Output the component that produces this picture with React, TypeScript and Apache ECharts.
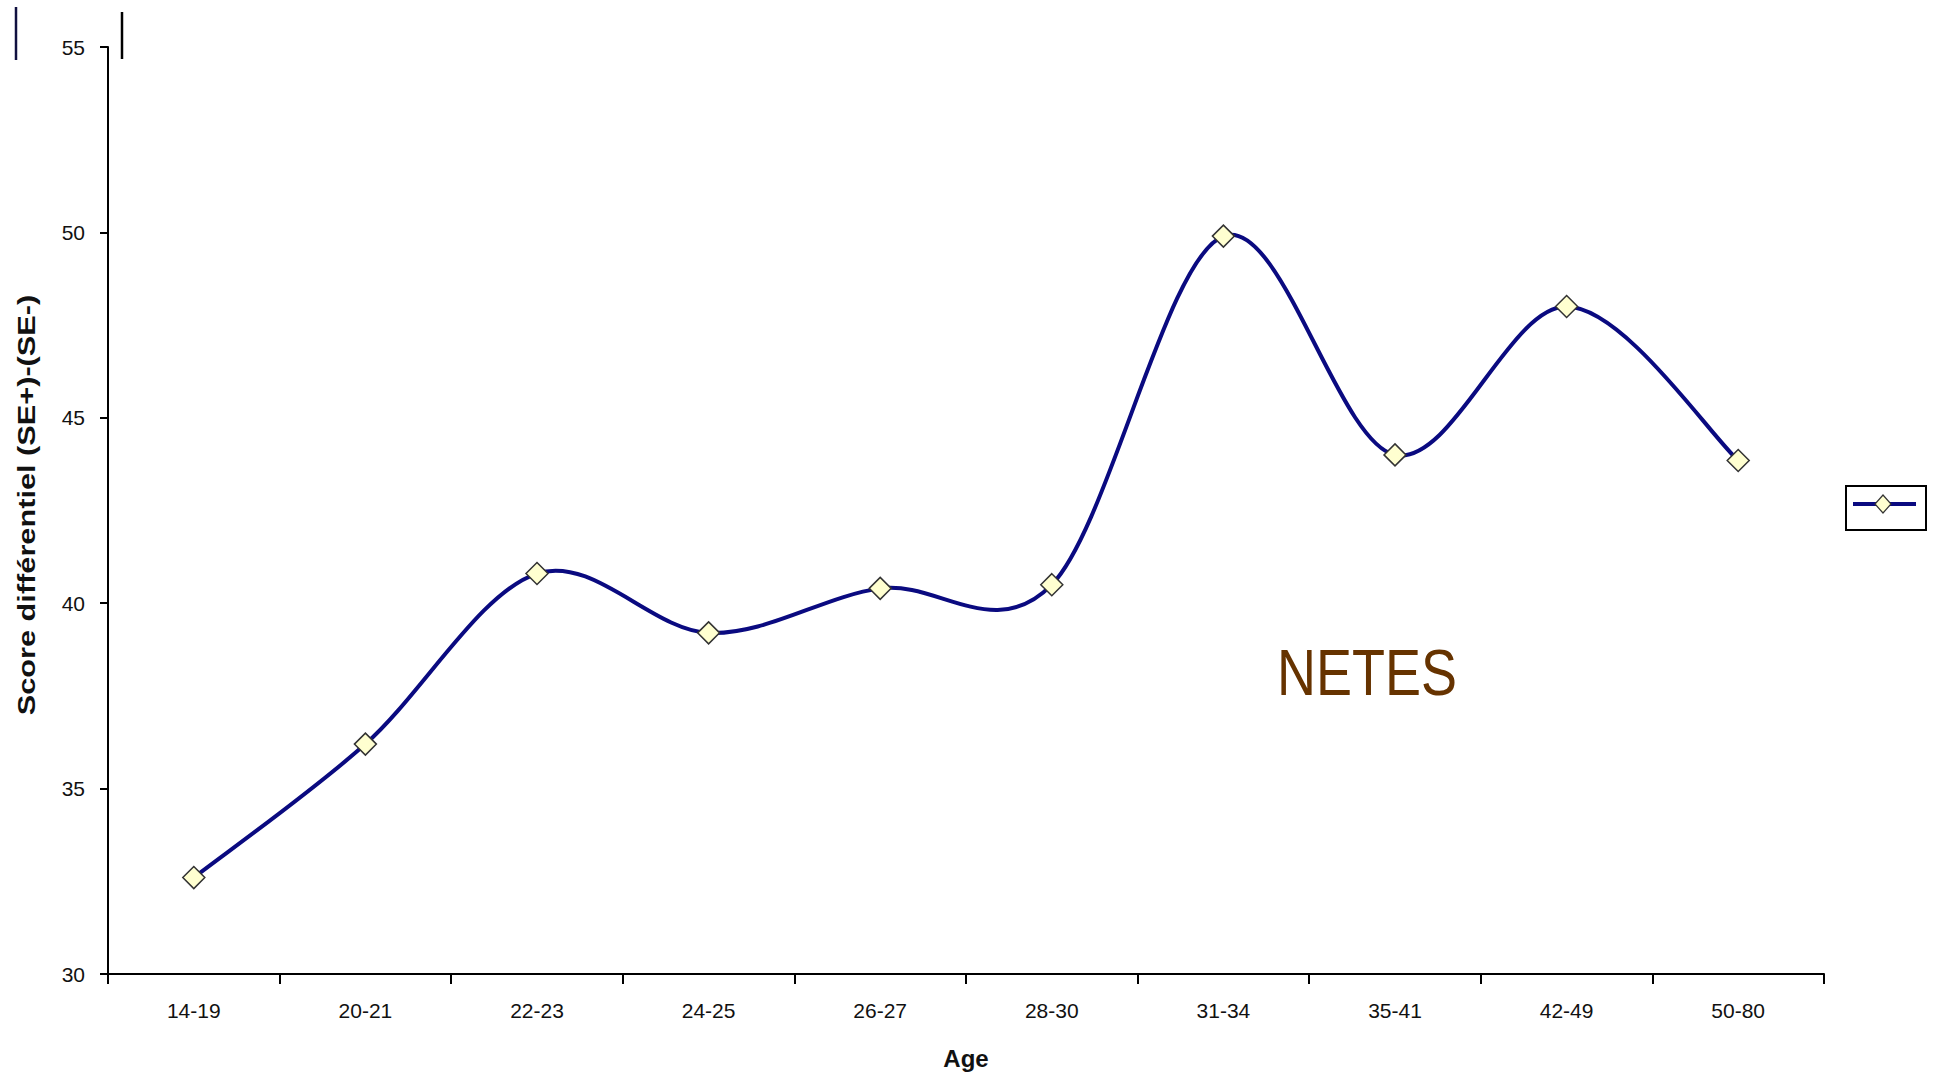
import React, { useEffect, useRef } from "react";
import * as echarts from "echarts";

// Age groups and mean differential score (SE+)-(SE-) per group
const ageGroups = ["14-19", "20-21", "22-23", "24-25", "26-27", "28-30", "31-34", "35-41", "42-49", "50-80"];
const scores = [32.6, 36.2, 40.8, 39.2, 40.4, 40.5, 49.9, 44.0, 48.0, 43.85];
const yTicks = { min: 30, max: 55, interval: 5 };
const yTitle = "Score différentiel (SE+)-(SE-)";
const xTitle = "Age";

const FONT = "'Liberation Sans', Arial, Helvetica, sans-serif";
const NAVY = "#0a0a80";

// Catmull-Rom style smoothed segment between point i and i+1 (spreadsheet-like smoothing)
function renderSegment(params: any, api: any) {
  const i = params.dataIndex;
  const n = scores.length;
  if (i >= n - 1) return null;
  const idx = (k: number) => Math.max(0, Math.min(n - 1, k));
  const pt = (k: number) => api.coord([idx(k), scores[idx(k)]]);
  const p0 = pt(i - 1);
  const p1 = pt(i);
  const p2 = pt(i + 1);
  const p3 = pt(i + 2);
  return {
    type: "bezierCurve",
    shape: {
      x1: p1[0],
      y1: p1[1],
      x2: p2[0],
      y2: p2[1],
      cpx1: p1[0] + (p2[0] - p0[0]) / 6,
      cpy1: p1[1] + (p2[1] - p0[1]) / 6,
      cpx2: p2[0] - (p3[0] - p1[0]) / 6,
      cpy2: p2[1] - (p3[1] - p1[1]) / 6,
    },
    style: { stroke: NAVY, lineWidth: 4, fill: "none", lineCap: "round" },
  };
}

export default function App() {
  const ref = useRef<HTMLDivElement>(null);

  useEffect(() => {
    if (!ref.current) return;
    const chart = echarts.init(ref.current, undefined, { renderer: "svg" });
    chart.setOption({
      animation: false,
      backgroundColor: "#ffffff",
      grid: { left: 108, right: 110, top: 47, bottom: 98, containLabel: false, outerBoundsMode: "none" },
      xAxis: {
        type: "category",
        data: ageGroups,
        boundaryGap: true,
        name: xTitle,
        nameLocation: "middle",
        nameGap: 72,
        nameTextStyle: { fontFamily: FONT, fontWeight: "bold", fontSize: 24, color: "#111" },
        axisLine: { lineStyle: { color: "#000", width: 2 } },
        axisTick: { show: true, inside: false, length: 10, alignWithLabel: false, lineStyle: { color: "#000", width: 2 } },
        axisLabel: { fontFamily: FONT, fontSize: 21, color: "#111", margin: 26 },
        splitLine: { show: false },
      },
      yAxis: {
        type: "value",
        min: yTicks.min,
        max: yTicks.max,
        interval: yTicks.interval,
        axisLine: { show: true, lineStyle: { color: "#000", width: 2 } },
        axisTick: { show: true, inside: false, length: 8, lineStyle: { color: "#000", width: 2 } },
        axisLabel: { fontFamily: FONT, fontSize: 21, color: "#111", margin: 23 },
        splitLine: { show: false },
      },
      series: [
        {
          type: "custom",
          coordinateSystem: "cartesian2d",
          data: scores.map((v, i) => [i, v]),
          encode: { x: 0, y: 1 },
          renderItem: renderSegment,
          z: 2,
          silent: true,
        },
        {
          type: "line",
          data: scores,
          lineStyle: { opacity: 0, width: 0 },
          symbol: "diamond",
          symbolSize: 22,
          itemStyle: { color: "#ffffd0", borderColor: "#333", borderWidth: 1.5 },
          z: 3,
        },
      ],
      graphic: [
        // vertical axis title, drawn a little elongated along its length
        {
          type: "text",
          x: 27,
          y: 505,
          rotation: Math.PI / 2,
          scaleX: 1.28,
          style: {
            text: yTitle,
            fontFamily: FONT,
            fontWeight: "bold",
            fontSize: 24,
            fill: "#111",
            align: "center",
            verticalAlign: "middle",
          },
        },
        // legend box with line + diamond key
        {
          type: "rect",
          shape: { x: 1846, y: 486, width: 80, height: 44 },
          style: { fill: "#fff", stroke: "#000", lineWidth: 2 },
        },
        {
          type: "line",
          shape: { x1: 1853, y1: 504, x2: 1916, y2: 504 },
          style: { stroke: NAVY, lineWidth: 4 },
        },
        {
          type: "polygon",
          shape: { points: [[1883, 495], [1891, 504], [1883, 513], [1875, 504]] },
          style: { fill: "#ffffd0", stroke: "#333", lineWidth: 1.2 },
        },
        // short rules at the top-left corner
        {
          type: "line",
          shape: { x1: 16, y1: 7, x2: 16, y2: 60 },
          style: { stroke: "#101040", lineWidth: 2.5 },
        },
        {
          type: "line",
          shape: { x1: 122, y1: 12, x2: 122, y2: 59 },
          style: { stroke: "#000", lineWidth: 2.5 },
        },
        // series title
        {
          type: "text",
          x: 1277,
          y: 640,
          scaleY: 1.2,
          style: {
            text: "NETES",
            fontFamily: FONT,
            fontSize: 54,
            fill: "#663300",
            verticalAlign: "top",
          },
        },
      ],
    });
    return () => chart.dispose();
  }, []);

  return (
    <div
      ref={ref}
      style={{ position: "absolute", left: 0, top: 0, width: 1934, height: 1072, background: "#fff" }}
    />
  );
}
